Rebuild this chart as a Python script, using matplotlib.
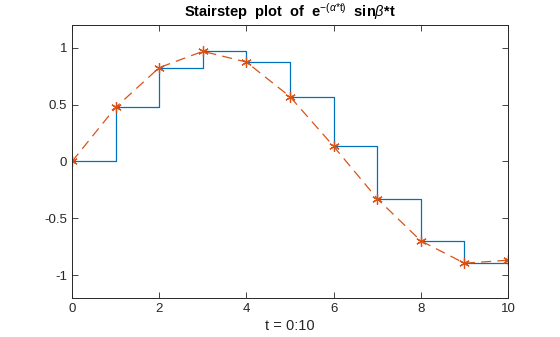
import matplotlib.pyplot as plt

plt.rcParams['font.family'] = ['Liberation Sans', 'DejaVu Sans']
plt.rcParams['mathtext.fontset'] = 'custom'
plt.rcParams['mathtext.rm'] = 'Liberation Sans'
plt.rcParams['mathtext.it'] = 'Liberation Sans:italic'
plt.rcParams['mathtext.bf'] = 'Liberation Sans:bold'

# samples of e^(-alpha*t) * sin(beta*t)
t = [0, 1, 2, 3, 4, 5, 6, 7, 8, 9, 10]
y = [0.0, 0.475, 0.825, 0.968, 0.874, 0.569, 0.133, -0.327, -0.698, -0.894, -0.868]
xticks = [0, 2, 4, 6, 8, 10]
yticks = [-1, -0.5, 0, 0.5, 1]
yticklabels = ['-1', '-0.5', '0', '0.5', '1']

fig = plt.figure(figsize=(5.6, 3.37), dpi=100)
ax = fig.add_axes([0.1286, 0.1157, 0.7786, 0.8103])

ax.step(t, y, where='post', color='#0072BD', linewidth=0.9)
ax.plot(t, y, linestyle=(0, (8, 5)), color='#D95319', linewidth=0.9,
        marker=(6, 2, 0), markersize=7.5, markeredgewidth=0.9)

ax.set_xlim(0, 10)
ax.set_ylim(-1.2, 1.2)
ax.set_xticks(xticks)
ax.set_yticks(yticks)
ax.set_yticklabels(yticklabels)
ax.tick_params(direction='in', top=True, right=True, labelsize=9.5,
               colors='#262626', length=4, width=0.6)
for sp in ax.spines.values():
    sp.set_linewidth(0.7)
    sp.set_color('#262626')

ax.set_xlabel('t = 0:10', fontsize=10.5, color='#262626', labelpad=3)
ax.set_title(r'Stairstep  plot  of  e$^{-(\alpha{*}\mathrm{t})}$  sin$\beta$*t',
             fontsize=10.5, fontweight='bold', color='#000000', pad=6)

fig.savefig('out.png', dpi=100)
